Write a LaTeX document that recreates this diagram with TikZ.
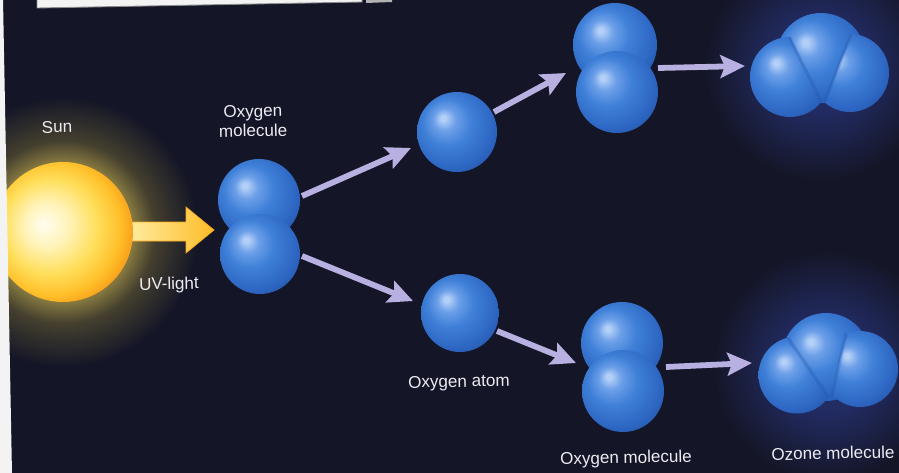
\documentclass[tikz,border=0pt]{standalone}
\usepackage{fontspec}
\setmainfont{Liberation Sans}
\usetikzlibrary{arrows.meta}

% palette
\definecolor{bg}{HTML}{141627}
\definecolor{lav}{HTML}{B9B0E2}
\definecolor{txt}{HTML}{ECECF2}
\definecolor{paper}{HTML}{F3F3F3}
% sphere blues
\definecolor{hlb}{HTML}{B4D0F8}
\definecolor{bA}{HTML}{6C9FE8}
\definecolor{bB}{HTML}{3F80D8}
\definecolor{bC}{HTML}{2E68C4}
\definecolor{bD}{HTML}{2152A8}
% sun colours
\definecolor{sA}{HTML}{FFFDF0}
\definecolor{sB}{HTML}{FFF3B8}
\definecolor{sC}{HTML}{FFDE5A}
\definecolor{sD}{HTML}{FFC02A}
\definecolor{sE}{HTML}{F79A18}
\definecolor{sF}{HTML}{E0680E}
% halos
\definecolor{gA}{HTML}{857840}
\definecolor{gB}{HTML}{443F2E}
\definecolor{zA}{HTML}{222B62}

\pgfdeclareradialshading{bluesphere}{\pgfpoint{-9bp}{9bp}}{%
  color(0bp)=(hlb); color(1.5bp)=(hlb); color(7bp)=(bA); color(15bp)=(bB);
  color(26bp)=(bC); color(34bp)=(bD); color(50bp)=(bD)}
\pgfdeclareradialshading{sunball}{\pgfpoint{-7bp}{3bp}}{%
  color(0bp)=(sA); color(8bp)=(sB); color(17bp)=(sC); color(24bp)=(sD);
  color(29bp)=(sE); color(32bp)=(sF); color(50bp)=(sF)}
\pgfdeclareradialshading{sunhalo}{\pgfpoint{0bp}{0bp}}{%
  color(0bp)=(gA); color(13bp)=(gA); color(17bp)=(gB); color(25bp)=(bg); color(50bp)=(bg)}
\pgfdeclareradialshading{ozhalo}{\pgfpoint{0bp}{0bp}}{%
  color(0bp)=(zA); color(10bp)=(zA); color(25bp)=(bg); color(50bp)=(bg)}

\tikzset{
  atomball/.style={circle, inner sep=0pt, minimum size=#1, shade, shading=bluesphere},
  atomball/.default=1.64cm,
  seam/.style={draw=bD, draw opacity=0.28, line width=1.8pt, line cap=round},
  conn/.style={draw=lav, line width=3.3pt,
    -{Stealth[length=14pt,width=13pt,inset=2.5pt]}},
  lbl/.style={text=txt, font=\fontsize{9.7}{11}\selectfont, rotate=1.2,
    align=center, inner sep=1pt},
}

\begin{document}
\begin{tikzpicture}[x=0.02cm,y=-0.02cm]
\useasboundingbox (0,0) rectangle (899,473);
\fill[bg] (0,0) rectangle (899,473);

% halos
\shade[shading=sunhalo] (63,232) circle (135);
\shade[shading=ozhalo] (820,66) circle (115);
\shade[shading=ozhalo] (828,366) circle (115);

% UV beam from the sun
\shade[left color=sB!80!sC, right color=sD!90!sE, draw=sE!60!sD, line width=0.4pt]
  (125,222) -- (186,222) -- (186,207) -- (214,230) -- (186,253) -- (186,241)
  -- (125,241) -- cycle;

% sun
\node[circle, inner sep=0pt, minimum size=2.8cm, shade, shading=sunball] (sun) at (63,232) {};

% first oxygen molecule
\node[atomball] (o2aT) at (259,200) {};
\node[atomball=1.6cm] (o2aB) at (260,254) {};

% oxygen atoms
\node[atomball=1.6cm] (atomU) at (457,132) {};
\node[atomball=1.56cm] (atomL) at (460,313) {};

% upper oxygen molecule
\node[atomball=1.68cm] (o2bT) at (615,45) {};
\node[atomball] (o2bB) at (617,92) {};

% lower oxygen molecule
\node[atomball] (o2cT) at (622,343) {};
\node[atomball] (o2cB) at (623,391) {};

% upper ozone molecule: central atom behind, two lobes cut along a V
\node[atomball=1.8cm] (ozUt) at (821,58) {};
\begin{scope}
  \clip (700,0) -- (772.6,0) -- (843,150) -- (700,150) -- cycle;
  \node[atomball=1.6cm] (ozUl) at (790,77) {};
\end{scope}
\begin{scope}
  \clip (865,0) -- (950,0) -- (950,150) -- (806,150) -- cycle;
  \node[atomball=1.56cm] (ozUr) at (850,73) {};
\end{scope}
\draw[seam] (790,38) -- (821,101);
\draw[seam] (851,35) -- (825,101);

% lower ozone molecule
\node[atomball=1.76cm] (ozLt) at (826,357) {};
\begin{scope}
  \clip (700,300) -- (762.8,300) -- (863.6,450) -- (700,450) -- cycle;
  \node[atomball=1.54cm] (ozLl) at (797,375) {};
\end{scope}
\begin{scope}
  \clip (855,300) -- (950,300) -- (950,450) -- (817.5,450) -- cycle;
  \node[atomball=1.52cm] (ozLr) at (860,369) {};
\end{scope}
\draw[seam] (788,338) -- (828,396);
\draw[seam] (846,334) -- (832,396);

% connector ends
\coordinate (a1s) at (302,196);  \coordinate (a1e) at (411,148);
\coordinate (a2s) at (302,256);  \coordinate (a2e) at (413,301);
\coordinate (a3s) at (494,112);  \coordinate (a3e) at (566,73);
\coordinate (a4s) at (658,68);   \coordinate (a4e) at (745,66);
\coordinate (a5s) at (497,331);  \coordinate (a5e) at (576,363);
\coordinate (a6s) at (666,367);  \coordinate (a6e) at (752,363);

\draw[conn] (a1s) -- (a1e);
\draw[conn] (a2s) -- (a2e);
\draw[conn] (a3s) -- (a3e);
\draw[conn] (a4s) -- (a4e);
\draw[conn] (a5s) -- (a5e);
\draw[conn] (a6s) -- (a6e);

% labels
\node[lbl] (tsun) at (57,127) {Sun};
\node[lbl] (tuv) at (169,285) {UV-light};
\node[lbl] (to2a) at (253,121) {Oxygen\\molecule};
\node[lbl] (tatom) at (459,383) {Oxygen atom};
\node[lbl] (to2c) at (626,459) {Oxygen molecule};
\node[lbl] (toz) at (833,453) {Ozone molecule};

% paper margins
\fill[paper] (0,-1) -- (3,-1) -- (12,474) -- (0,474) -- cycle;
\fill[paper, draw=black!45, line width=0.5pt] (37,-2) -- (362,-2) -- (362,2) -- (37,8) -- cycle;
\fill[black!30] (366,-1) -- (392,-1) -- (392,2) -- (366,3) -- cycle;
\end{tikzpicture}
\end{document}
